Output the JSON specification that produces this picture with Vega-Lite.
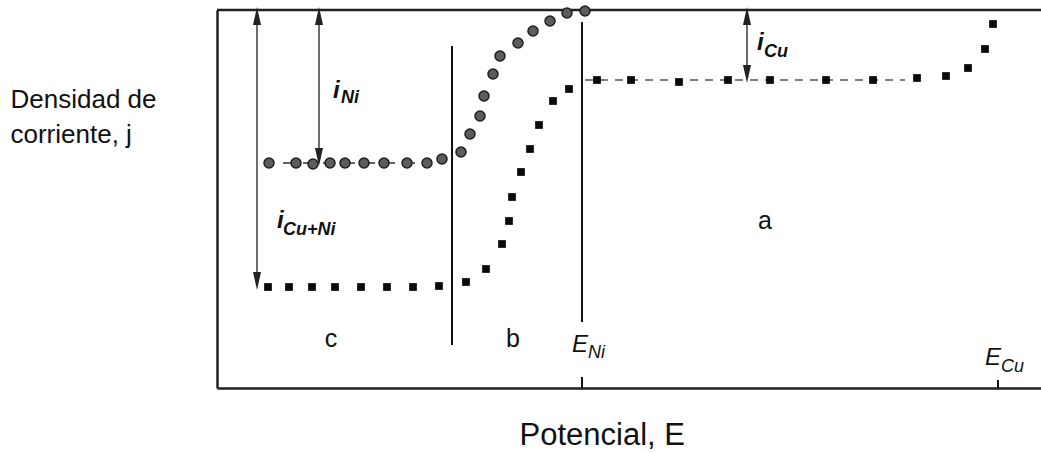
{
  "$schema": "https://vega.github.io/schema/vega-lite/v6.json",
  "width": 824,
  "height": 378,
  "autosize": {"type": "none"},
  "padding": {"left": 217, "top": 10, "right": 0, "bottom": 65},
  "background": "white",
  "config": {"view": {"stroke": null}, "font": "Liberation Sans"},
  "datasets": {
    "frame": [{"E": 0, "E2": 824, "j": 378, "j2": 378}],
    "vlines": [
      {"E": 235, "E2": 235, "j": 43, "j2": 342},
      {"E": 365, "E2": 365, "j": 66, "j2": 366},
      {"E": 365, "E2": 365, "j": 0, "j2": 11},
      {"E": 781, "E2": 781, "j": 0, "j2": 8}
    ],
    "arrows": [
      {"E": 40, "E2": 40, "j": 103, "j2": 376},
      {"E": 102, "E2": 102, "j": 227, "j2": 376},
      {"E": 530, "E2": 530, "j": 310, "j2": 376}
    ],
    "arrowUp": [{"E": 40, "j": 372}, {"E": 102, "j": 372}, {"E": 530, "j": 372}],
    "arrowDown": [{"E": 40, "j": 107}, {"E": 102, "j": 231}, {"E": 530, "j": 314}],
    "dashes": [
      {"E": 66, "E2": 213, "j": 225, "j2": 225, "s": "c"},
      {"E": 368, "E2": 688, "j": 308, "j2": 308, "s": "s"}
    ],
    "circles": [
      {"E": 52, "j": 225}, {"E": 79, "j": 225}, {"E": 96, "j": 224}, {"E": 113, "j": 225},
      {"E": 128, "j": 225}, {"E": 147, "j": 225}, {"E": 167, "j": 225}, {"E": 190, "j": 225},
      {"E": 210, "j": 225}, {"E": 225, "j": 229}, {"E": 244, "j": 236}, {"E": 253, "j": 254},
      {"E": 263, "j": 272}, {"E": 267, "j": 292}, {"E": 276, "j": 314}, {"E": 283, "j": 332},
      {"E": 301, "j": 345}, {"E": 316, "j": 357}, {"E": 333, "j": 367}, {"E": 350, "j": 375},
      {"E": 368, "j": 377}
    ],
    "squares": [
      {"E": 51, "j": 101}, {"E": 72, "j": 101}, {"E": 95, "j": 101}, {"E": 118, "j": 101},
      {"E": 144, "j": 101}, {"E": 170, "j": 101}, {"E": 196, "j": 101}, {"E": 222, "j": 102},
      {"E": 249, "j": 106}, {"E": 269, "j": 119}, {"E": 285, "j": 144}, {"E": 292, "j": 167},
      {"E": 295, "j": 191}, {"E": 304, "j": 216}, {"E": 313, "j": 239}, {"E": 322, "j": 263},
      {"E": 336, "j": 287}, {"E": 352, "j": 299}, {"E": 380, "j": 308}, {"E": 414, "j": 308},
      {"E": 462, "j": 306}, {"E": 511, "j": 308}, {"E": 553, "j": 308}, {"E": 609, "j": 308},
      {"E": 656, "j": 308}, {"E": 700, "j": 310}, {"E": 729, "j": 312}, {"E": 751, "j": 320},
      {"E": 768, "j": 339}, {"E": 776, "j": 364}
    ],
    "iMain": [
      {"E": 116, "j": 290, "t": "i"},
      {"E": 60, "j": 160, "t": "i"},
      {"E": 540, "j": 338, "t": "i"}
    ],
    "iSub": [
      {"E": 124, "j": 285, "t": "Ni"},
      {"E": 66, "j": 153, "t": "Cu+Ni"},
      {"E": 547, "j": 331, "t": "Cu"}
    ],
    "eMain": [
      {"E": 355, "j": 36, "t": "E"},
      {"E": 768, "j": 23, "t": "E"}
    ],
    "eSub": [
      {"E": 371, "j": 30, "t": "Ni"},
      {"E": 784, "j": 16, "t": "Cu"}
    ],
    "regions": [
      {"E": 548, "j": 159, "t": "a"},
      {"E": 296, "j": 41, "t": "b"},
      {"E": 114, "j": 41, "t": "c"}
    ]
  },
  "layer": [
    {
      "data": {"name": "frame"},
      "mark": {"type": "rule", "color": "#222", "strokeWidth": 2.5},
      "encoding": {
        "x": {"field": "E", "type": "quantitative", "scale": {"domain": [0, 824], "nice": false, "zero": false},
          "axis": {"domain": true, "domainColor": "#222", "domainWidth": 2.5, "ticks": false, "labels": false, "grid": false,
            "title": "Potencial, E", "titleFontSize": 31, "titleFontWeight": "normal", "titleFont": "Liberation Sans", "titleColor": "#111",
            "titleAlign": "left", "titleBaseline": "middle", "titleX": 302, "titleY": 47}},
        "x2": {"field": "E2"},
        "y": {"field": "j", "type": "quantitative", "scale": {"domain": [0, 378], "nice": false, "zero": false},
          "axis": {"domain": true, "domainColor": "#222", "domainWidth": 2.5, "ticks": false, "labels": false, "grid": false,
            "title": ["Densidad de", "corriente, j"], "titleAngle": 0, "titleAlign": "left", "titleBaseline": "middle",
            "titleX": -207, "titleY": 89, "titleFontSize": 26, "titleLineHeight": 35, "titleFontWeight": "normal",
            "titleFont": "Liberation Sans", "titleColor": "#111"}},
        "y2": {"field": "j2"}
      }
    },
    {
      "data": {"name": "vlines"},
      "mark": {"type": "rule", "color": "#111", "strokeWidth": 2},
      "encoding": {
        "x": {"field": "E", "type": "quantitative"}, "x2": {"field": "E2"},
        "y": {"field": "j", "type": "quantitative"}, "y2": {"field": "j2"}
      }
    },
    {
      "data": {"name": "arrows"},
      "mark": {"type": "rule", "color": "#4a4a4a", "strokeWidth": 1.6},
      "encoding": {
        "x": {"field": "E", "type": "quantitative"}, "x2": {"field": "E2"},
        "y": {"field": "j", "type": "quantitative"}, "y2": {"field": "j2"}
      }
    },
    {
      "data": {"name": "arrowUp"},
      "mark": {"type": "point", "shape": "M-0.45,1L0,-1L0.45,1Z", "size": 320, "filled": true, "color": "#222", "opacity": 1},
      "encoding": {"x": {"field": "E", "type": "quantitative"}, "y": {"field": "j", "type": "quantitative"}}
    },
    {
      "data": {"name": "arrowDown"},
      "mark": {"type": "point", "shape": "M-0.45,-1L0,1L0.45,-1Z", "size": 320, "filled": true, "color": "#222", "opacity": 1},
      "encoding": {"x": {"field": "E", "type": "quantitative"}, "y": {"field": "j", "type": "quantitative"}}
    },
    {
      "data": {"name": "dashes"},
      "transform": [{"filter": "datum.s === 's'"}],
      "mark": {"type": "rule", "color": "#555", "strokeWidth": 1.6, "strokeDash": [8, 7]},
      "encoding": {
        "x": {"field": "E", "type": "quantitative"}, "x2": {"field": "E2"},
        "y": {"field": "j", "type": "quantitative"}, "y2": {"field": "j2"}
      }
    },
    {
      "data": {"name": "dashes"},
      "transform": [{"filter": "datum.s === 'c'"}],
      "mark": {"type": "rule", "color": "#333", "strokeWidth": 1.6, "strokeDash": [12, 8]},
      "encoding": {
        "x": {"field": "E", "type": "quantitative"}, "x2": {"field": "E2"},
        "y": {"field": "j", "type": "quantitative"}, "y2": {"field": "j2"}
      }
    },
    {
      "data": {"name": "circles"},
      "mark": {"type": "point", "shape": "circle", "size": 100, "filled": true, "fill": "#5c5c5c", "stroke": "#1e1e1e", "strokeWidth": 1.5, "opacity": 1},
      "encoding": {"x": {"field": "E", "type": "quantitative"}, "y": {"field": "j", "type": "quantitative"}}
    },
    {
      "data": {"name": "squares"},
      "mark": {"type": "point", "shape": "square", "size": 60, "filled": true, "color": "#0a0a0a", "opacity": 1},
      "encoding": {"x": {"field": "E", "type": "quantitative"}, "y": {"field": "j", "type": "quantitative"}}
    },
    {
      "data": {"name": "iMain"},
      "mark": {"type": "text", "font": "Liberation Sans", "fontSize": 24, "fontStyle": "italic", "fontWeight": "bold", "align": "left", "baseline": "alphabetic", "color": "#111"},
      "encoding": {"x": {"field": "E", "type": "quantitative"}, "y": {"field": "j", "type": "quantitative"}, "text": {"field": "t"}}
    },
    {
      "data": {"name": "iSub"},
      "mark": {"type": "text", "font": "Liberation Sans", "fontSize": 18, "fontStyle": "italic", "fontWeight": "bold", "align": "left", "baseline": "alphabetic", "color": "#111"},
      "encoding": {"x": {"field": "E", "type": "quantitative"}, "y": {"field": "j", "type": "quantitative"}, "text": {"field": "t"}}
    },
    {
      "data": {"name": "eMain"},
      "mark": {"type": "text", "font": "Liberation Sans", "fontSize": 24, "fontStyle": "italic", "fontWeight": 500, "align": "left", "baseline": "alphabetic", "color": "#111"},
      "encoding": {"x": {"field": "E", "type": "quantitative"}, "y": {"field": "j", "type": "quantitative"}, "text": {"field": "t"}}
    },
    {
      "data": {"name": "eSub"},
      "mark": {"type": "text", "font": "Liberation Sans", "fontSize": 18, "fontStyle": "italic", "align": "left", "baseline": "alphabetic", "color": "#111"},
      "encoding": {"x": {"field": "E", "type": "quantitative"}, "y": {"field": "j", "type": "quantitative"}, "text": {"field": "t"}}
    },
    {
      "data": {"name": "regions"},
      "mark": {"type": "text", "font": "Liberation Sans", "fontSize": 25, "align": "center", "baseline": "alphabetic", "color": "#111"},
      "encoding": {"x": {"field": "E", "type": "quantitative"}, "y": {"field": "j", "type": "quantitative"}, "text": {"field": "t"}}
    }
  ]
}
